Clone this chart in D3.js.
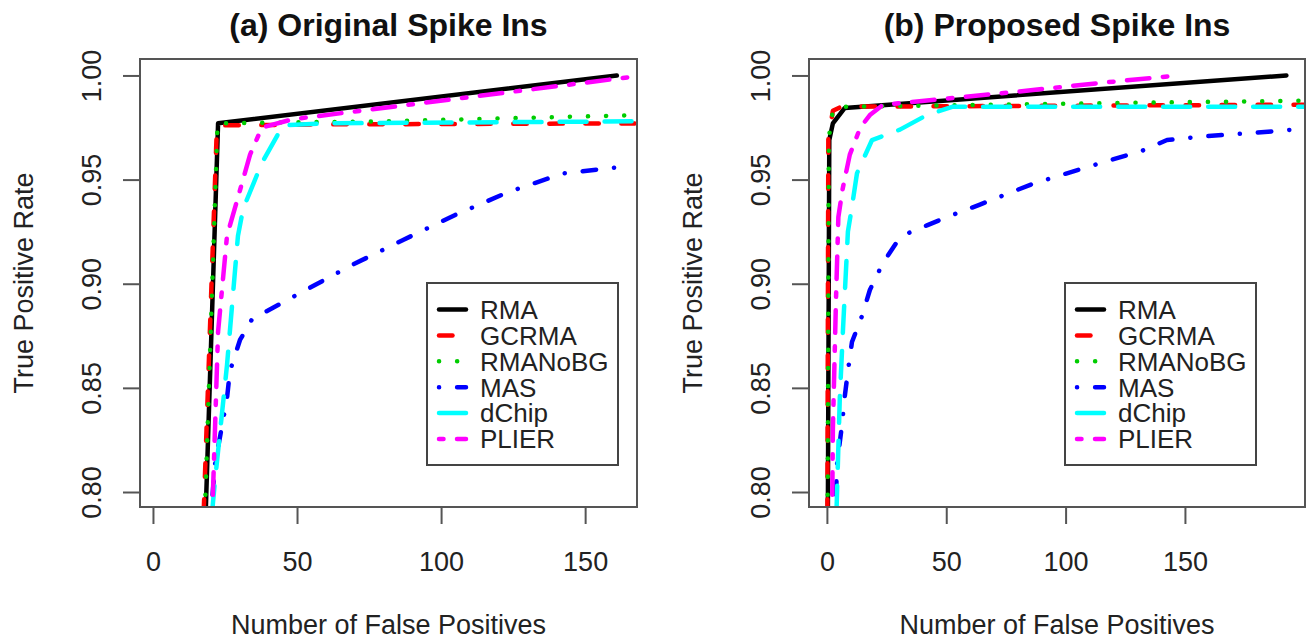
<!DOCTYPE html>
<html lang="en">
<head>
    <meta charset="UTF-8">
    <title>Spike Ins ROC</title>
    <script src="https://d3js.org/d3.v7.min.js"></script>
    <style>
        body {
            margin: 0;
            background: #fff;
        }
        svg {
            display: block;
            font-family: "Liberation Sans", Arial, Helvetica, sans-serif;
        }
        .box {
            fill: none;
            stroke: #555;
            stroke-width: 2;
        }
        .lbl {
            fill: #222;
            font-size: 27px;
        }
        .leg {
            fill: #222;
            font-size: 26px;
        }
        .title {
            fill: #111;
            font-size: 32px;
            font-weight: bold;
        }
    </style>
</head>
<body>
    <svg id="chart" width="1307" height="639"></svg>

    <script>
        // legend order = drawing order
        const methods = ["RMA", "GCRMA", "RMANoBG", "MAS", "dChip", "PLIER"];
        const xTicks = [0, 50, 100, 150];
        const yTicks = [0.80, 0.85, 0.90, 0.95, 1.00];
        const yTickLabels = ["0.80", "0.85", "0.90", "0.95", "1.00"];

        // (a) Original Spike Ins  -- [false positives, true positive rate]
        const origRMA = [[18.3, 0.79], [22.6, 0.977], [161, 1.0]];
        const origGCRMA = [[17.6, 0.79], [22.2, 0.976], [60, 0.9765], [170, 0.977]];
        const origRMANoBG = [[18.0, 0.79], [22.4, 0.977], [80, 0.978], [170, 0.981]];
        const origMAS = [[20.2, 0.79], [21.5, 0.813], [25.7, 0.845], [26.7, 0.858], [30.2, 0.873],
            [34.4, 0.883], [51.7, 0.896], [69.1, 0.909], [86.8, 0.921], [104.9, 0.933],
            [123.3, 0.944], [142.4, 0.953], [161.8, 0.956]];
        const origDChip = [[20.5, 0.79], [21.5, 0.805], [25.7, 0.861], [29.5, 0.923], [31.3, 0.936],
            [37.8, 0.958], [45.1, 0.976], [60, 0.977], [170, 0.978]];
        const origPLIER = [[20.6, 0.79], [22.6, 0.877], [25.7, 0.923], [29.2, 0.940], [33.7, 0.962],
            [37.8, 0.975], [48.6, 0.979], [170, 1.0]];

        // (b) Proposed Spike Ins
        const propRMA = [[0.4, 0.79], [1.0, 0.969], [2.5, 0.977], [7.5, 0.9844], [192.5, 1.0]];
        const propGCRMA = [[0.2, 0.79], [0.6, 0.97], [2.5, 0.983], [6, 0.985], [205, 0.986]];
        const propRMANoBG = [[0.3, 0.79], [0.8, 0.97], [2.5, 0.983], [6, 0.985], [205, 0.988]];
        const propMAS = [[3.6, 0.79], [4.2, 0.813], [6.3, 0.832], [7.5, 0.846], [8.8, 0.858],
            [10.5, 0.872], [14.7, 0.8845], [18, 0.897], [23.5, 0.910], [29.3, 0.920],
            [33.5, 0.924], [41.9, 0.928], [50.3, 0.932], [64.1, 0.938], [86.3, 0.948],
            [109, 0.956], [132.4, 0.964], [142.5, 0.969], [156.3, 0.9706], [179.4, 0.9725],
            [195.3, 0.974], [205, 0.975]];
        const propDChip = [[4.0, 0.79], [5.4, 0.845], [6.7, 0.877], [8.8, 0.925], [10.5, 0.937],
            [12.6, 0.953], [18.9, 0.969], [30.6, 0.974], [41.9, 0.981], [52.8, 0.985], [205, 0.985]];
        const propPLIER = [[2.2, 0.79], [2.5, 0.83], [3.8, 0.892], [4.8, 0.932], [6.5, 0.945],
            [9.6, 0.962], [14, 0.975], [18, 0.981], [23.5, 0.9859], [78, 0.992], [114.4, 0.9964],
            [147, 1.0]];

        const lwd = 4.5;
        // R colours and line types (lty digits, in units of lwd)
        const style = {
            RMA:     { color: "#000000", lty: null },
            GCRMA:   { color: "#ff0000", lty: [4, 4] },
            RMANoBG: { color: "#00cd00", lty: [1, 3] },
            MAS:     { color: "#0000ff", lty: [1, 3, 4, 3] },
            dChip:   { color: "#00ffff", lty: [7, 3] },
            PLIER:   { color: "#ff00ff", lty: [2, 2, 6, 2] }
        };
        // round caps add lwd to each "on" piece, so take it back off
        const dash = m => {
            const lty = style[m].lty;
            if (!lty) return null;
            return lty.map((d, i) => i % 2 === 0 ? Math.max(d * lwd - lwd, 0.1) : d * lwd + lwd).join(" ");
        };

        const svg = d3.select("#chart");

        const panels = [
            {
                id: "a", title: "(a) Original Spike Ins",
                left: 140, right: 637, xDomain: [-4.5, 168],
                series: [origRMA, origGCRMA, origRMANoBG, origMAS, origDChip, origPLIER],
                legendX: 427
            },
            {
                id: "b", title: "(b) Proposed Spike Ins",
                left: 809, right: 1305, xDomain: [-7.5, 200.3],
                series: [propRMA, propGCRMA, propRMANoBG, propMAS, propDChip, propPLIER],
                legendX: 1065
            }
        ];

        const plotTop = 59, plotBottom = 507;

        panels.forEach(p => {
            const x = d3.scaleLinear().domain(p.xDomain).range([p.left, p.right]);
            const y = d3.scaleLinear().domain([0.7928, 1.0079]).range([plotBottom, plotTop]);
            const g = svg.append("g");

            g.append("clipPath").attr("id", "clip-" + p.id)
                .append("rect")
                .attr("x", p.left).attr("y", plotTop)
                .attr("width", p.right - p.left).attr("height", plotBottom - plotTop);

            // curves
            const line = d3.line().x(d => x(d[0])).y(d => y(d[1]));
            const curves = g.append("g").attr("clip-path", `url(#clip-${p.id})`);
            methods.forEach((m, i) => {
                curves.append("path")
                    .datum(p.series[i])
                    .attr("d", line)
                    .attr("fill", "none")
                    .attr("stroke", style[m].color)
                    .attr("stroke-width", lwd)
                    .attr("stroke-linecap", "round")
                    .attr("stroke-linejoin", "round")
                    .attr("stroke-dasharray", dash(m));
            });

            // box
            g.append("rect").attr("class", "box")
                .attr("x", p.left).attr("y", plotTop)
                .attr("width", p.right - p.left).attr("height", plotBottom - plotTop);

            // x axis
            const xAxis = d3.axisBottom(x).tickValues(xTicks).tickSize(17).tickPadding(0).tickFormat(d3.format("d"));
            const xg = g.append("g").attr("transform", `translate(0,${plotBottom})`).call(xAxis);
            xg.select(".domain").attr("stroke", "#555").attr("stroke-width", 2)
                .attr("d", `M${x(xTicks[0])},0H${x(xTicks[xTicks.length - 1])}`);
            xg.selectAll(".tick line").attr("stroke", "#555").attr("stroke-width", 2);
            xg.selectAll(".tick text")
                .attr("class", "lbl")
                .attr("fill", "#222")
                .attr("y", 64).attr("dy", null);
            xg.attr("font-family", null).attr("font-size", null);

            // y axis
            const yAxis = d3.axisLeft(y).tickValues(yTicks).tickSize(17).tickFormat((d, i) => yTickLabels[i]);
            const yg = g.append("g").attr("transform", `translate(${p.left},0)`).call(yAxis);
            yg.select(".domain").attr("stroke", "#555").attr("stroke-width", 2)
                .attr("d", `M0,${y(yTicks[0])}V${y(yTicks[yTicks.length - 1])}`);
            yg.selectAll(".tick line").attr("stroke", "#555").attr("stroke-width", 2);
            yg.selectAll(".tick text")
                .attr("class", "lbl")
                .attr("fill", "#222")
                .attr("x", null).attr("dy", "0.358em")
                .attr("text-anchor", "middle")
                .attr("transform", "translate(-49,0) rotate(-90)");
            yg.attr("font-family", null).attr("font-size", null);

            const cx = (p.left + p.right) / 2;
            g.append("text").attr("class", "title")
                .attr("x", cx).attr("y", 36).attr("text-anchor", "middle")
                .text(p.title);
            g.append("text").attr("class", "lbl")
                .attr("x", cx).attr("y", 634).attr("text-anchor", "middle")
                .text("Number of False Positives");
            g.append("text").attr("class", "lbl")
                .attr("text-anchor", "middle").attr("dy", "0.358em")
                .attr("transform", `translate(${p.left - 117},${(plotTop + plotBottom) / 2}) rotate(-90)`)
                .text("True Positive Rate");

            // legend
            const lg = g.append("g").attr("transform", `translate(${p.legendX},283)`);
            lg.append("rect")
                .attr("width", 191).attr("height", 182)
                .attr("fill", "#fff").attr("stroke", "#444").attr("stroke-width", 2);
            methods.forEach((m, i) => {
                const ly = 26.5 + i * 25.9;
                lg.append("line")
                    .attr("x1", 12).attr("x2", 39).attr("y1", ly).attr("y2", ly)
                    .attr("stroke", style[m].color)
                    .attr("stroke-width", lwd)
                    .attr("stroke-linecap", "round")
                    .attr("stroke-dasharray", dash(m));
                lg.append("text").attr("class", "leg")
                    .attr("x", 53).attr("y", ly).attr("dy", "0.358em")
                    .text(m);
            });
        });
    </script>
</body>
</html>
